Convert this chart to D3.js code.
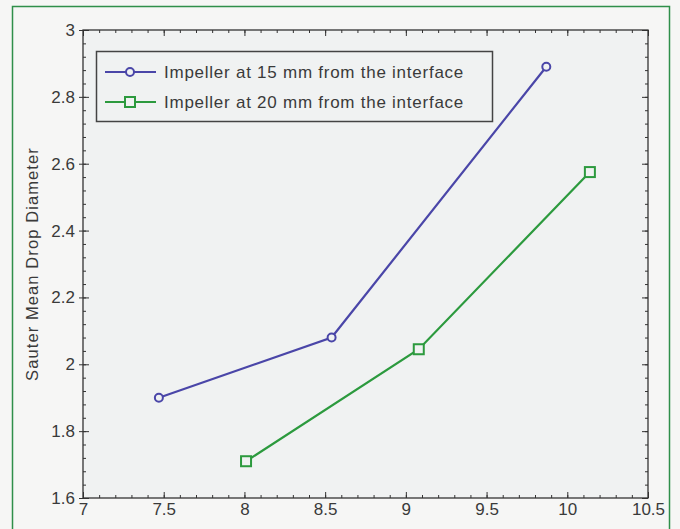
<!DOCTYPE html>
<html>
<head>
<meta charset="utf-8">
<script src="https://cdn.jsdelivr.net/npm/d3@7"></script>
<style>
  body { margin: 0; background: #f6f6f5; }
  text { font-family: "Liberation Sans", Arial, sans-serif; fill: #3a3a3a; }
</style>
</head>
<body>
<div id="grafica"></div>
<script>
// data
var seriesNames = ["Impeller at 15 mm from the interface", "Impeller at 20 mm from the interface"];
var xBlue = [7.47, 8.54, 9.87];
var yBlue = [1.90, 2.08, 2.89];
var xGreen = [8.01, 9.08, 10.14];
var yGreen = [1.71, 2.045, 2.575];
var xTicks = [7, 7.5, 8, 8.5, 9, 9.5, 10, 10.5];
var yTicks = [1.6, 1.8, 2, 2.2, 2.4, 2.6, 2.8, 3];
var yLabel = "Sauter Mean Drop Diameter";

var W = 680, H = 529;
var margin = { top: 30, right: 32, bottom: 31, left: 83 },
  width = W - margin.left - margin.right,
  height = H - margin.top - margin.bottom;

var svg = d3.select("#grafica")
  .append("svg")
  .attr("width", W)
  .attr("height", H);

// page background and green frame
svg.append("rect").attr("width", W).attr("height", H).style("fill", "#f6f6f5");
svg.append("rect")
  .attr("x", 12.5).attr("y", 6.5)
  .attr("width", 657).attr("height", 600)
  .style("fill", "none")
  .style("stroke", "#2f8f4a")
  .style("stroke-width", 1.5);

var g = svg.append("g")
  .attr("transform", "translate(" + margin.left + "," + margin.top + ")");

// plot background
var plotBg = "#f0f2f2";
g.append("rect")
  .attr("width", width).attr("height", height)
  .style("fill", plotBg);

var x = d3.scaleLinear().domain([7, 10.5]).range([0, width]);
var y = d3.scaleLinear().domain([1.6, 3]).range([height, 0]);

var xMinor = d3.range(70, 106).map(function (d) { return d / 10; });
var yMinor = d3.range(40, 76).map(function (d) { return d / 25; });

// ---------------------------//
//       AXES                 //
// ---------------------------//
var axisColor = "#333";

function drawAxis(axis, tr) {
  var a = g.append("g").attr("transform", tr).call(axis);
  a.select(".domain").remove();
  a.selectAll("line").style("stroke", axisColor);
  return a;
}

// minor ticks, inward
drawAxis(d3.axisBottom(x).tickValues(xMinor).tickSize(-3).tickFormat(""), "translate(0," + height + ")");
drawAxis(d3.axisTop(x).tickValues(xMinor).tickSize(-3).tickFormat(""), "translate(0,0)");
drawAxis(d3.axisLeft(y).tickValues(yMinor).tickSize(-3).tickFormat(""), "translate(0,0)");
drawAxis(d3.axisRight(y).tickValues(yMinor).tickSize(-3).tickFormat(""), "translate(" + width + ",0)");

// major ticks
var xb = drawAxis(d3.axisBottom(x).tickValues(xTicks).tickSize(-6).tickFormat(d3.format("")), "translate(0," + height + ")");
xb.selectAll("text").style("font-size", "17px").attr("dy", "0.71em").attr("y", 5);
drawAxis(d3.axisTop(x).tickValues(xTicks).tickSize(-6).tickFormat(""), "translate(0,0)");
var yl = drawAxis(d3.axisLeft(y).tickValues(yTicks).tickSize(4).tickPadding(4).tickFormat(d3.format("")), "translate(0,0)");
yl.selectAll("text").style("font-size", "17px");
drawAxis(d3.axisLeft(y).tickValues(yTicks).tickSize(-6).tickFormat(""), "translate(0,0)");
drawAxis(d3.axisRight(y).tickValues(yTicks).tickSize(-6).tickFormat(""), "translate(" + width + ",0)");

// frame
g.append("rect")
  .attr("width", width).attr("height", height)
  .style("fill", "none")
  .style("stroke", axisColor)
  .style("stroke-width", 1.3);

// Y axis label
svg.append("text")
  .attr("transform", "translate(38,264) rotate(-90)")
  .attr("text-anchor", "middle")
  .style("font-size", "16.5px")
  .style("letter-spacing", "1.1px")
  .text(yLabel);

// ---------------------------//
//       LINES                //
// ---------------------------//
var blue = "#4a46a8", green = "#2c9a3e";
var blueData = xBlue.map(function (d, i) { return [d, yBlue[i]]; });
var greenData = xGreen.map(function (d, i) { return [d, yGreen[i]]; });

var line = d3.line()
  .x(function (d) { return x(d[0]); })
  .y(function (d) { return y(d[1]); });

g.append("path").datum(blueData).attr("d", line)
  .style("fill", "none").style("stroke", blue).style("stroke-width", 2.2);
g.append("path").datum(greenData).attr("d", line)
  .style("fill", "none").style("stroke", green).style("stroke-width", 2.2);

g.selectAll("bluedot").data(blueData).enter().append("circle")
  .attr("cx", function (d) { return x(d[0]); })
  .attr("cy", function (d) { return y(d[1]); })
  .attr("r", 4)
  .style("fill", plotBg).style("stroke", blue).style("stroke-width", 2);

g.selectAll("greendot").data(greenData).enter().append("rect")
  .attr("x", function (d) { return x(d[0]) - 5; })
  .attr("y", function (d) { return y(d[1]) - 5; })
  .attr("width", 10).attr("height", 10)
  .style("fill", plotBg).style("stroke", green).style("stroke-width", 2);

// ---------------------------//
//       LEGEND               //
// ---------------------------//
var lg = svg.append("g");
lg.append("rect")
  .attr("x", 96.5).attr("y", 51.5)
  .attr("width", 396).attr("height", 70)
  .style("fill", plotBg)
  .style("stroke", "#444")
  .style("stroke-width", 1.5);

var legendColors = [blue, green];
seriesNames.forEach(function (name, i) {
  var yy = 72 + i * 30;
  lg.append("line")
    .attr("x1", 105).attr("x2", 156).attr("y1", yy).attr("y2", yy)
    .style("stroke", legendColors[i]).style("stroke-width", 2.2);
  if (i === 0) {
    lg.append("circle").attr("cx", 130).attr("cy", yy).attr("r", 4)
      .style("fill", plotBg).style("stroke", blue).style("stroke-width", 2);
  } else {
    lg.append("rect").attr("x", 125).attr("y", yy - 5).attr("width", 10).attr("height", 10)
      .style("fill", plotBg).style("stroke", green).style("stroke-width", 2);
  }
  lg.append("text")
    .attr("x", 164).attr("y", yy)
    .attr("dy", "0.35em")
    .style("font-size", "17px")
    .style("letter-spacing", "0.75px")
    .text(name);
});
</script>
</body>
</html>
